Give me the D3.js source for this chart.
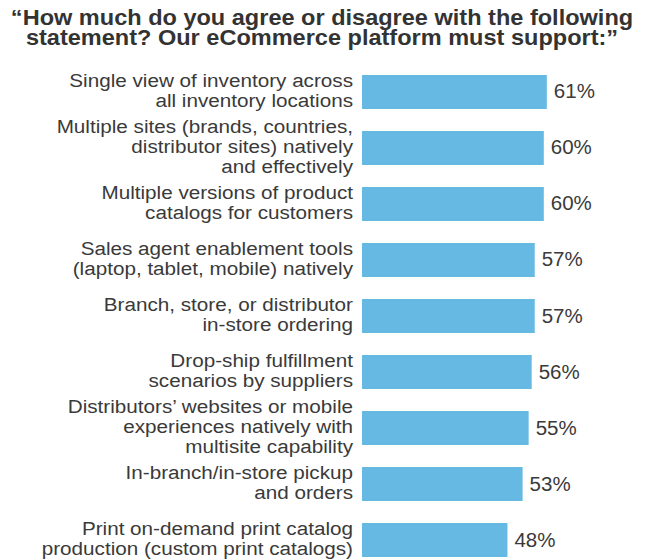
<!DOCTYPE html>
<html>
<head>
<meta charset="utf-8">
<script src="https://cdn.jsdelivr.net/npm/d3@7"></script>
<style>
  body { margin: 0; background: #fff; }
  text { font-family: "Liberation Sans", Arial, Helvetica, sans-serif; fill: #3a3a3a; }
</style>
</head>
<body>
<div id="chart"></div>
<script>
var width = 648,
    height = 559;

// ******* data ********* //
var titleLines = [
  "\u201CHow much do you agree or disagree with the following",
  "statement? Our eCommerce platform must support:\u201D"
];

var categories = [
  ["Single view of inventory across", "all inventory locations"],
  ["Multiple sites (brands, countries,", "distributor sites) natively", "and effectively"],
  ["Multiple versions of product", "catalogs for customers"],
  ["Sales agent enablement tools", "(laptop, tablet, mobile) natively"],
  ["Branch, store, or distributor", "in-store ordering"],
  ["Drop-ship fulfillment", "scenarios by suppliers"],
  ["Distributors\u2019 websites or mobile", "experiences natively with", "multisite capability"],
  ["In-branch/in-store pickup", "and orders"],
  ["Print on-demand print catalog", "production (custom print catalogs)"]
];

var values = [61, 60, 60, 57, 57, 56, 55, 53, 48];

var barColor = "#65b9e2";

var svg = d3.select("#chart")
    .append("svg")
    .attr("width", width)
    .attr("height", height);

// ******* scales ********* //
var idx = d3.range(categories.length);

var x = d3.scaleLinear().domain([0, 100]).range([362, 665]);
var y = d3.scaleBand()
    .domain(idx)
    .range([75, 557])
    .paddingInner(0.393)
    .paddingOuter(0);

// ******* title (slightly wide type, like the source) ********* //
svg.append("g")
    .selectAll("g")
    .data(titleLines)
    .enter().append("g")
    .attr("transform", function(d, i) {
        return "translate(322," + (25 + i * 19.5) + ") scale(1.095,1)";
    })
    .append("text")
    .attr("text-anchor", "middle")
    .style("font-weight", "bold")
    .style("font-size", "21.5px")
    .style("fill", "#333")
    .text(function(d) { return d; });

// ******* bars ********* //
svg.append("g")
    .selectAll("rect")
    .data(idx)
    .enter().append("rect")
    .attr("x", x(0))
    .attr("y", function(i) { return y(i); })
    .attr("width", function(i) { return x(values[i]) - x(0); })
    .attr("height", y.bandwidth())
    .attr("fill", barColor);

// ******* value labels ********* //
svg.append("g")
    .selectAll("text")
    .data(idx)
    .enter().append("text")
    .attr("x", function(i) { return x(values[i]) + 7; })
    .attr("y", function(i) { return y(i) + y.bandwidth() / 2 + 6.5; })
    .style("font-size", "20.5px")
    .text(function(i) { return values[i] + "%"; });

// ******* category labels ********* //
var lineH = 19.7;
var labels = svg.append("g")
    .selectAll("g")
    .data(idx)
    .enter().append("g")
    .attr("transform", function(i) {
        var n = categories[i].length;
        var cy = y(i) + y.bandwidth() / 2 + 5 - (n - 1) / 2 * lineH;
        return "translate(353," + cy + ") scale(1.1,1)";
    });

labels.selectAll("text")
    .data(function(i) { return categories[i]; })
    .enter().append("text")
    .attr("x", 0)
    .attr("y", function(d, k) { return k * lineH; })
    .attr("text-anchor", "end")
    .style("font-size", "18.8px")
    .text(function(d) { return d; });
</script>
</body>
</html>
